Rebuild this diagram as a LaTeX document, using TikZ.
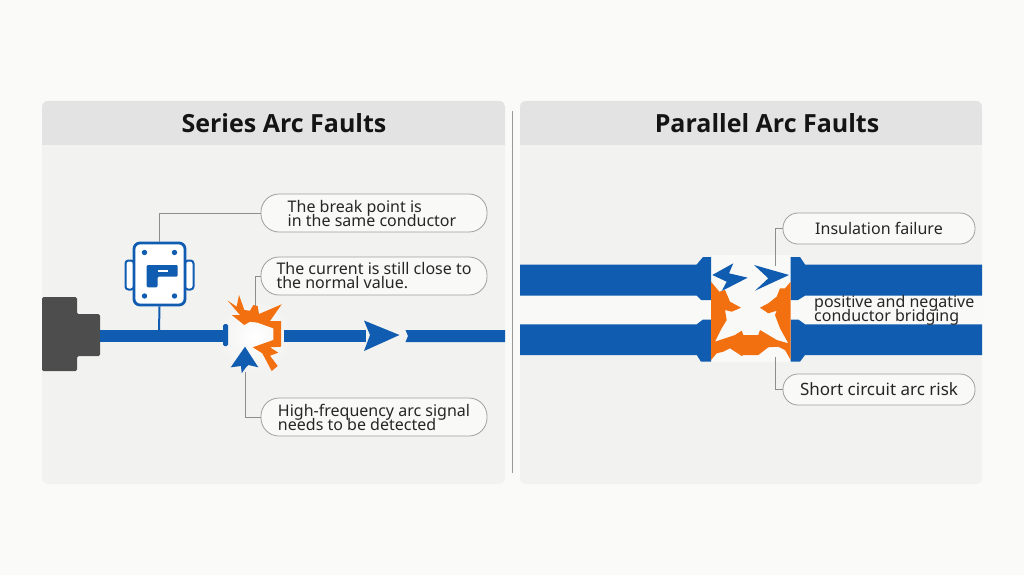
\documentclass[tikz,border=0pt]{standalone}
\usepackage{fontspec}
\setmainfont{Noto Sans}
\newfontfamily\headfont{Open Sans}
% tight line pitch for the callout text, with no extra gap on descenders
\newcommand{\calloutfont}{\fontsize{16}{14}\selectfont\setlength{\lineskiplimit}{-20pt}}
\definecolor{pagebg}{HTML}{FAFBF9}
\definecolor{panelbg}{HTML}{F2F2F1}
\definecolor{headbg}{HTML}{E3E3E3}
\definecolor{gapbg}{HTML}{F9F9F8}
\definecolor{wire}{HTML}{0F5CB0}
\definecolor{arc}{HTML}{F2700F}
\definecolor{leader}{HTML}{8E8E8E}
\definecolor{block}{HTML}{4D4D4D}
\definecolor{calloutbg}{HTML}{F9F9F7}
\tikzset{
  panel/.style={fill=panelbg,draw=none,rounded corners=6pt},
  headtitle/.style={font=\headfont\fontsize{25}{28}\selectfont\bfseries,text=black!92,inner sep=0pt},
  callout/.style={draw=leader!85,line width=0.8pt,fill=calloutbg,rounded corners=18pt,
    minimum width=226pt,minimum height=38pt,inner sep=0pt,align=left,
    font=\calloutfont,text=black!85},
  calloutshort/.style={callout,rounded corners=15pt,minimum width=192pt,minimum height=31pt},
  lead/.style={draw=leader,line width=1pt},
  wirefill/.style={fill=wire,draw=none},
  arcfill/.style={fill=arc,draw=none},
}
\begin{document}
\begin{tikzpicture}[x=1pt,y=-1pt]
\useasboundingbox (0,0) rectangle (1024,575);
\fill[pagebg] (0,0) rectangle (1024,575);

% panels with their header bands
\fill[panel] (42,101) rectangle (505,484);
\fill[panel] (520,101) rectangle (982,484);
\begin{scope}
  \clip[rounded corners=6pt] (42,101) rectangle (505,484);
  \fill[headbg] (42,101) rectangle (505,145);
\end{scope}
\begin{scope}
  \clip[rounded corners=6pt] (520,101) rectangle (982,484);
  \fill[headbg] (520,101) rectangle (982,145);
\end{scope}
\node[headtitle] (titleL) at (284,123) {Series Arc Faults};
\node[headtitle] (titleR) at (767,123) {Parallel Arc Faults};
\draw[draw=leader!90,line width=1pt] (512.5,111) -- (512.5,473);

% ---- series fault ----
\fill[block,rounded corners=1.5pt] (42,297) -- (77,297) -- (77,314) -- (100,314) -- (100,356) -- (77,356) -- (77,371) -- (42,371) -- cycle;

% pale glow around the break
\shade[inner color=white,outer color=panelbg] (255,336) circle (36pt);

% terminal box on the line
\coordinate (tap) at (159,331);
\fill[wirefill] (100,330) rectangle (224,342);
\fill[wirefill,rounded corners=1.5pt] (223,324) rectangle (228,346);
\draw[wire,line width=2pt,fill=white,rounded corners=3pt] (125.5,260.5) rectangle (134,289.5);
\draw[wire,line width=2pt,fill=white,rounded corners=3pt] (185,260.5) rectangle (193.5,289.5);
\node[draw=wire,line width=2.8pt,fill=white,rounded corners=6pt,minimum width=51pt,minimum height=62pt,inner sep=0pt] (icon) at (159.5,274) {};
\foreach \px/\py in {144.5/252.5,174.5/252.5,144.5/296,174.5/296}
  \fill[wire] (\px,\py) circle (2.7pt);
\fill[wirefill,rounded corners=1.2pt] (146.7,265) -- (177.7,265) -- (177.7,276.7) -- (157.5,276.7) -- (157.5,287.3) -- (146.7,287.3) -- cycle;
\fill[white] (158,269.5) rectangle (168,272);
\draw[wire,line width=2pt] (icon.south) -- (tap);

% series line after the break
\fill[wirefill] (284,330) rectangle (366,342);
\fill[wirefill] (364,320.5) -- (399.5,335) -- (364,351) -- (370,335) -- cycle;
\fill[wirefill] (405.5,330) -- (505,330) -- (505,342) -- (405.5,342) -- (408,336) -- cycle;

% burst of the arc and the signal marker
\coordinate (burstTop) at (255.5,306);
\coordinate (sigTip) at (245.5,372);
\fill[arcfill] (227.7,300.7) -- (236.7,306.7) -- (239,295) -- (244.3,310) -- (250,310.7) -- (253.3,305) -- (257.7,306) -- (259,314) -- (281.7,304.3) -- (270,321) -- (281,321) -- (281,346.7) -- (270,347.3) -- (278.3,352.7) -- (270,355.7) -- (277.7,366) -- (271.7,371) -- (262.3,353.3) -- (252.7,347.3) -- (273.3,340) -- (273.3,328.3) -- (257.7,322.7) -- (250,321.7) -- (244.3,325) -- (231.7,315) -- (240,315) -- cycle;
\fill[wirefill] (245,346.7) -- (258.3,367.3) -- (248.3,365) -- (245.5,368) -- (241.7,373.3) -- (241,366) -- (230.7,367.3) -- cycle;

% callouts of the series fault
\node[callout] (c1) at (374,213) {The break point is\\in the same conductor\hspace*{4pt}};
\node[callout] (c2) at (374,276) {The current is still close to\\the normal value.};
\node[callout] (c3) at (374,417) {High-frequency arc signal\\needs to be detected};
\draw[lead] (icon.north) |- (c1.west);
\draw[lead] (burstTop) |- (c2.west);
\draw[lead] (sigTip) |- (c3.west);

% ---- parallel fault ----
\fill[gapbg] (520,296) rectangle (982,325);
\fill[gapbg] (711,255) rectangle (791,362);
\coordinate (upperLead) at (775.5,266);
\coordinate (lowerLead) at (775.5,357);
\fill[wirefill] (520,264.5) -- (696.7,264.5) -- (703,257) -- (711,257) -- (711,300) -- (701,300) -- (696.7,295.7) -- (520,295.7) -- cycle;
\fill[wirefill] (520,324.3) -- (696.7,324.3) -- (703,319.5) -- (711,319.5) -- (711,361.7) -- (701,361.7) -- (696.7,355) -- (520,355) -- cycle;
\fill[wirefill] (982,264.5) -- (805,264.5) -- (800,257) -- (790.7,257) -- (790.7,300) -- (798,300) -- (805,295.7) -- (982,295.7) -- cycle;
\fill[wirefill] (982,324.3) -- (805,324.3) -- (798.3,319.5) -- (790.7,319.5) -- (790.7,361.7) -- (800,361.7) -- (805,355) -- (982,355) -- cycle;

\fill[wirefill] (712.3,275) -- (733.3,263.3) -- (729,273.3) -- (747.7,277.7) -- (721.7,291) -- (726.7,281.7) -- cycle;
\fill[wirefill] (754,265) -- (789,275) -- (755,290.7) -- (768.3,278.3) -- cycle;

\fill[arcfill] (711,281.7) -- (719.3,291.7) -- (725,290) -- (730,301.7) -- (741,307.7) -- (731.7,311.7) -- (725,310) -- (726.7,320) -- (721.7,328.3) -- (715,341.7) -- (735,335) -- (741.7,330.7) -- (743.3,335) -- (758.3,335) -- (760,330) -- (776.7,340) -- (788.3,343.3) -- (780,328.3) -- (775,315) -- (776.7,310.7) -- (768.3,313.3) -- (760,307.7) -- (768.3,303.3) -- (776.7,296.7) -- (780,288.3) -- (785,288.3) -- (790.7,281.7) -- (790.7,360) -- (785,350) -- (778.3,346.7) -- (768.3,347.3) -- (758.3,355) -- (743.3,355) -- (741.7,356) -- (730,348.3) -- (723.3,351.7) -- (716.7,353.3) -- (711,360) -- cycle;

% callouts of the parallel fault
\node[calloutshort] (c4) at (879,228.5) {Insulation failure};
\node[calloutshort,font=\fontsize{17}{14}\selectfont] (c5) at (879,389.5) {Short circuit arc risk};
\node[inner sep=0pt,align=left,font=\calloutfont,text=black!85,anchor=north west] (c6) at (814,295) {positive and negative\\conductor bridging};
\draw[lead] (upperLead) |- (c4.west);
\draw[lead] (lowerLead) |- (c5.west);
\end{tikzpicture}
\end{document}
